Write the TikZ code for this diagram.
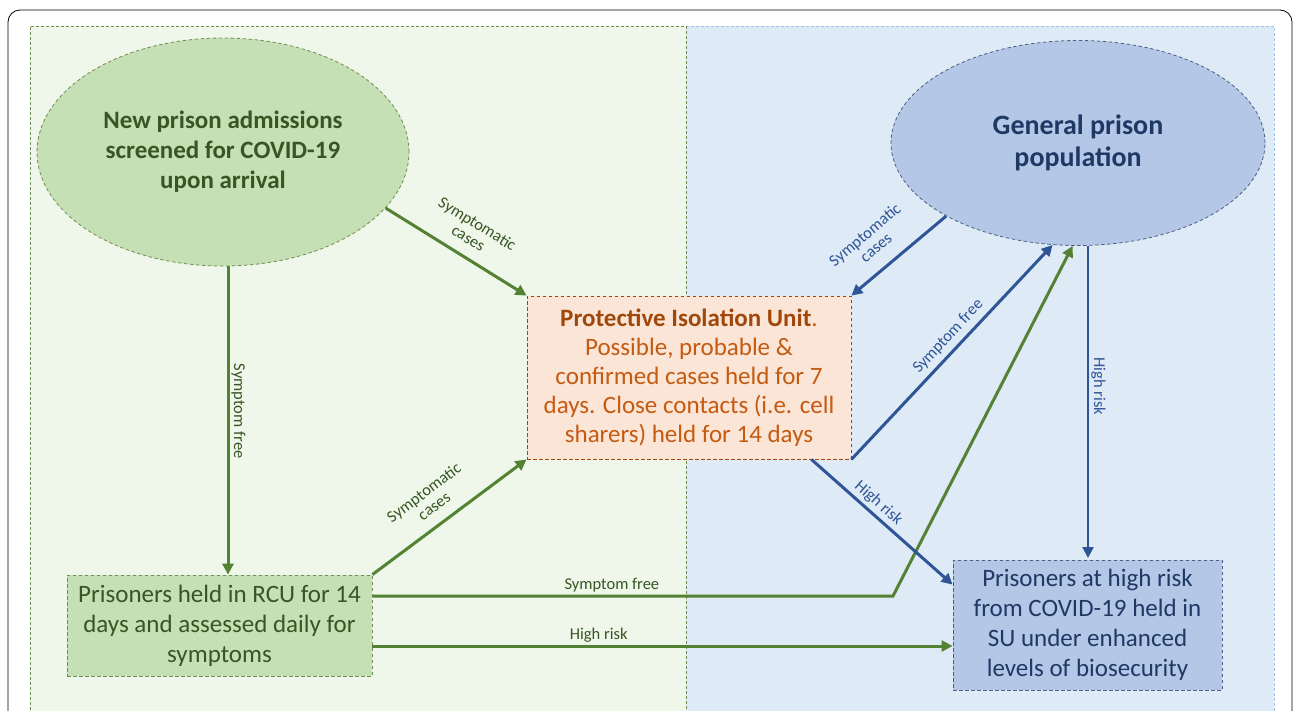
\documentclass[tikz,border=0pt]{standalone}
\usepackage{fontspec}
\setmainfont{Carlito}
\usetikzlibrary{shapes.geometric,arrows.meta,calc}
\definecolor{gfill}{HTML}{EFF6EA}
\definecolor{bfill}{HTML}{DEEAF6}
\definecolor{gnode}{HTML}{C5E0B4}
\definecolor{bnode}{HTML}{B4C7E7}
\definecolor{onode}{HTML}{FBE5D6}
\definecolor{garrow}{HTML}{548235}
\definecolor{barrow}{HTML}{2F5597}
\definecolor{gtext}{HTML}{375623}
\definecolor{btext}{HTML}{1F3864}
\definecolor{otext}{HTML}{C55A11}
\definecolor{obold}{HTML}{A0480C}
\definecolor{gborder}{HTML}{6F8F52}
\definecolor{bborder}{HTML}{9DC3E6}
\tikzset{
  region/.style={dash pattern=on 3pt off 2pt, line width=0.7pt},
  nodebox/.style={draw, dash pattern=on 3.5pt off 2.5pt, line width=0.8pt, align=center, inner sep=1pt},
  ell/.style={ellipse, draw, dash pattern=on 3.5pt off 2.5pt, line width=0.8pt, align=center, inner sep=0pt},
  garr/.style={draw=garrow, line width=3pt, -{Triangle[length=11pt,width=11pt]}},
  barr/.style={draw=barrow, line width=3pt, -{Triangle[length=11pt,width=11pt]}},
  glab/.style={font=\fontsize{16.5}{17}\selectfont, text=gtext, align=center, inner sep=2pt},
  blab/.style={font=\fontsize{16.5}{17}\selectfont, text=barrow, align=center, inner sep=2pt},
}
\begin{document}
\begin{tikzpicture}[x=1pt,y=-1pt]
\useasboundingbox (0,0) rectangle (1295,710);
% outer frame
\draw[line width=0.8pt, rounded corners=12pt] (8,740) -- (8,10) -- (1292,10) -- (1292,740);
% regions
\fill[gfill] (30,26) rectangle (686,720);
\fill[bfill] (686,26) rectangle (1274,720);
\draw[region, draw=gborder] (30,720) -- (30,26) -- (686,26) -- (686,720);
\draw[region, draw=bborder] (686,26) -- (1274,26) -- (1274,720);
\draw[region, draw=gborder] (686,26) -- (686,720);
% nodes
\node[ell, fill=gnode, draw=gborder, minimum width=372pt, minimum height=228pt,
      text=gtext, font=\fontsize{25}{30}\selectfont\bfseries] (e1) at (223,152)
      {New prison admissions\\screened for COVID-19\\upon arrival};
\node[ell, fill=bnode, draw=btext!80, minimum width=374pt, minimum height=205pt,
      text=btext, font=\fontsize{28}{32}\selectfont\bfseries] (e2) at (1078,143)
      {General prison\\population};
\node[nodebox, fill=onode, draw=otext!80!black, minimum width=324pt, minimum height=163pt,
      text=otext, font=\fontsize{25}{29}\selectfont] (piu) at (689,377.5)
      {{\color{obold}\bfseries Protective Isolation Unit}.\\Possible, probable \&\\confirmed cases held for 7\\days. Close contacts (i.e. cell\\sharers) held for 14 days};
\node[nodebox, fill=gnode, draw=gborder, minimum width=305pt, minimum height=101pt,
      text=gtext, font=\fontsize{25}{30}\selectfont] (rcu) at (219.5,625.5)
      {Prisoners held in RCU for 14\\days and assessed daily for\\symptoms};
\node[nodebox, fill=bnode, draw=btext!80, minimum width=269pt, minimum height=130pt,
      text=btext, font=\fontsize{25}{30}\selectfont] (su) at (1087.5,625)
      {Prisoners at high risk\\from COVID-19 held in\\SU under enhanced\\levels of biosecurity};
% coordinates
\coordinate (e1s) at ($(e1.south)+(5,0)$);
\coordinate (gsf) at ($(rcu.east)+(0,-29.5)$);
\coordinate (gbend) at (893,596);
\coordinate (ghr) at ($(rcu.east)+(0,20.5)$);
\coordinate (bhr) at ($(piu.south east)+(-40,0)$);
\coordinate (sutop) at (1088,558);
\coordinate (sulo) at ($(su.north west)+(0,25)$);
% green arrows
\draw[garr] (e1.-19.6) -- node[glab, sloped, above=9pt, pos=0.52] {Symptomatic\\cases} (piu.north west);
\draw[garr] (e1s) -- node[glab, sloped, above, pos=0.47] {Symptom free} (e1s |- rcu.north);
\draw[garr] (rcu.north east) -- node[glab, sloped, above=9pt, pos=0.47] {Symptomatic\\cases} (piu.south west);
\draw[garr] (gsf) -- node[glab, above, pos=0.46] {Symptom free} (gbend) -- (e2.267);
\draw[garr] (ghr) -- node[glab, above, pos=0.39] {High risk} (ghr -| su.west);
% blue arrows
\draw[barr] (e2.209.6) -- node[blab, sloped, above=12pt, pos=0.6] {Symptomatic\\cases} (piu.north east);
\draw[barr] (piu.south east) -- node[blab, sloped, above=3pt, pos=0.53] {Symptom free} (e2.256.8);
\draw[barr] (bhr) -- node[blab, sloped, above=1pt, pos=0.42] {High risk} (sulo);
\draw[barr, line width=2.4pt] (e2.south -| sutop) -- node[blab, sloped, above, pos=0.45] {High risk} (sutop);
\end{tikzpicture}
\end{document}
